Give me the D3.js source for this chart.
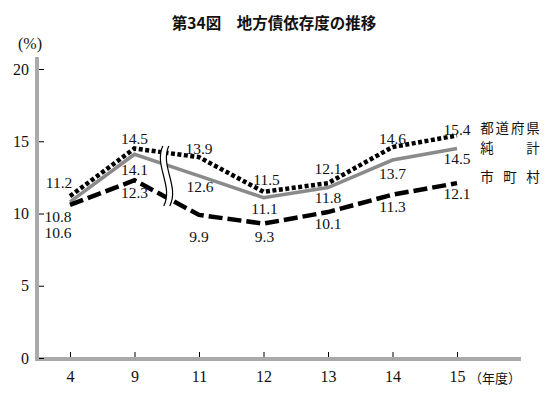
<!DOCTYPE html>
<html>
<head>
<meta charset="utf-8">
<script src="https://cdn.jsdelivr.net/npm/d3@7"></script>
<style>
  body { margin: 0; background: #fff; }
  svg { display: block; }
  .num { font-family: "Liberation Serif", "DejaVu Serif", serif; font-size: 15.5px; fill: #111; }
  .jp { font-family: "Noto Sans CJK JP", sans-serif; fill: #111; }
</style>
</head>
<body>
<div id="chart"></div>
<script>
// data
var years = ["4", "9", "11", "12", "13", "14", "15"];
var prefectures = [11.2, 14.5, 13.9, 11.5, 12.1, 14.6, 15.4];   // 都道府県
var netTotal = [10.8, 14.1, 12.6, 11.1, 11.8, 13.7, 14.5];      // 純計
var municipalities = [10.6, 12.3, 9.9, 9.3, 10.1, 11.3, 12.1];  // 市町村
var yTicks = [0, 5, 10, 15, 20];

function init() {
    var w = 560;
    var h = 397;

    var svg = d3.select("#chart")
        .append("svg")
        .attr("width", w)
        .attr("height", h);

    var xScale = d3.scalePoint()
        .domain(years)
        .range([70, 457]);

    var yScale = d3.scaleLinear()
        .domain([0, 20])
        .range([358, 69]);

    // title
    svg.append("text")
        .attr("class", "jp")
        .attr("x", 274)
        .attr("y", 29)
        .attr("text-anchor", "middle")
        .style("font-size", "15.5px")
        .style("font-weight", "bold")
        .text("第34図　地方債依存度の推移");

    // gray axis bars
    svg.append("rect")
        .attr("x", 35).attr("y", 57)
        .attr("width", 4).attr("height", 304)
        .attr("fill", "#aaa");
    svg.append("rect")
        .attr("x", 35).attr("y", 357)
        .attr("width", 486).attr("height", 4)
        .attr("fill", "#aaa");

    var yAxis = d3.axisLeft(yScale)
        .tickValues(yTicks)
        .tickSize(-5)
        .tickPadding(10);
    var gy = svg.append("g")
        .attr("transform", "translate(39,0)")
        .call(yAxis);
    gy.select(".domain").remove();
    gy.selectAll("text").attr("class", "num").style("font-size", "16px");

    var xAxis = d3.axisBottom(xScale)
        .tickSize(-5)
        .tickPadding(14);
    var gx = svg.append("g")
        .attr("transform", "translate(0,357)")
        .call(xAxis);
    gx.select(".domain").remove();
    gx.selectAll("text").attr("class", "num").style("font-size", "16px");

    svg.append("text")
        .attr("class", "num")
        .attr("x", 30).attr("y", 49)
        .attr("text-anchor", "middle")
        .style("font-size", "16px")
        .text("(%)");

    svg.append("text")
        .attr("class", "jp")
        .attr("x", 469).attr("y", 383)
        .style("font-size", "13px")
        .text("（年度）");

    var line = d3.line()
        .x((d, i) => xScale(years[i]))
        .y(d => yScale(d));

    svg.append("path")
        .datum(netTotal)
        .attr("fill", "none")
        .attr("stroke", "#8a8a8a")
        .attr("stroke-width", 3.5)
        .attr("d", line);

    svg.append("path")
        .datum(municipalities)
        .attr("fill", "none")
        .attr("stroke", "#000")
        .attr("stroke-width", 4.5)
        .attr("stroke-dasharray", "14,5")
        .attr("d", line);

    svg.append("path")
        .datum(prefectures)
        .attr("fill", "none")
        .attr("stroke", "#000")
        .attr("stroke-width", 4.5)
        .attr("stroke-dasharray", "4,2.5")
        .attr("d", line);

    // break mark between 9 and 11
    var bx = (xScale("9") + xScale("11")) / 2;
    var wave = (dx) => `M${bx - 1 + dx},146 C${bx - 10 + dx},166 ${bx + 10 + dx},186 ${bx + dx},206`;
    var gap = 6;
    svg.append("path")
        .attr("d", wave(-gap / 2) + ` L${bx + gap / 2},206 C${bx + 10 + gap / 2},186 ${bx - 10 + gap / 2},166 ${bx - 1 + gap / 2},146 Z`)
        .attr("fill", "#fff");
    [-gap / 2, gap / 2].forEach(dx => {
        svg.append("path")
            .attr("d", wave(dx))
            .attr("fill", "none")
            .attr("stroke", "#000")
            .attr("stroke-width", 1.2);
    });

    // value labels (offsets from each point, label centre)
    var labelSets = [
        { values: prefectures, off: [[-11, -14], [0, -10], [0, -9], [3, -12], [0, -15], [0, -9], [0, -6]] },
        { values: netTotal, off: [[-12, 15], [0, 15], [1, 11], [1, 11], [0, 10], [0, 13], [0, 10]] },
        { values: municipalities, off: [[-12, 28], [0, 12], [0, 22], [1, 13], [0, 11], [0, 12], [0, 10]] }
    ];
    labelSets.forEach(set => {
        svg.append("g")
            .selectAll("text")
            .data(set.values)
            .enter()
            .append("text")
            .attr("class", "num")
            .attr("text-anchor", "middle")
            .attr("x", (d, i) => xScale(years[i]) + set.off[i][0])
            .attr("y", (d, i) => yScale(d) + set.off[i][1] + 5.5)
            .text(d => d3.format(".1f")(d));
    });

    // series names at the right end
    var names = [
        { label: ["都", "道", "府", "県"], y: 128 },
        { label: ["純", "計"], y: 148 },
        { label: ["市", "町", "村"], y: 177 }
    ];
    names.forEach(n => {
        var step = n.label.length > 1 ? 46 / (n.label.length - 1) : 0;
        svg.append("g")
            .selectAll("text")
            .data(n.label)
            .enter()
            .append("text")
            .attr("class", "jp")
            .attr("x", (d, i) => 487 + i * step)
            .attr("y", n.y + 5)
            .attr("text-anchor", "middle")
            .style("font-size", "13.5px")
            .text(d => d);
    });
}

window.onload = init;
</script>
</body>
</html>
